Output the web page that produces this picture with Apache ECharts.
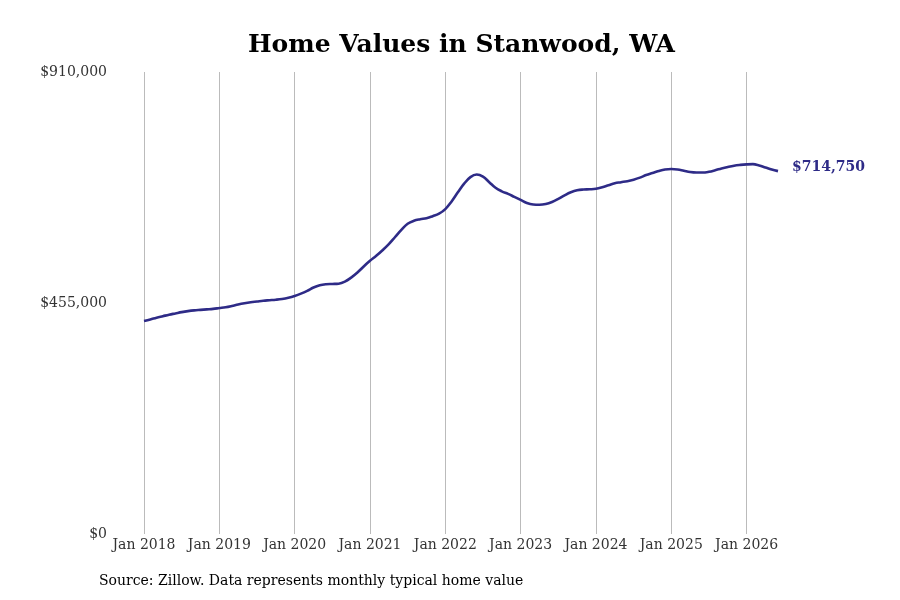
<!DOCTYPE html>
<html>
<head>
<meta charset="utf-8">
<title>Home Values in Stanwood, WA</title>
<script src="https://cdn.jsdelivr.net/npm/echarts@6/dist/echarts.min.js"></script>
<style>
  html, body { margin: 0; padding: 0; background: #fff; }
  #chart { width: 900px; height: 600px; }
</style>
</head>
<body>
<div id="chart"></div>
<script>
// monthly typical home value, Jan 2018 .. Jun 2026
var years = [2018, 2019, 2020, 2021, 2022, 2023, 2024, 2025, 2026];
var monthNames = ['Jan','Feb','Mar','Apr','May','Jun','Jul','Aug','Sep','Oct','Nov','Dec'];
var yTicks = [0, 455000, 910000];

var v2018 = [419500, 422500, 426000, 429000, 432000, 434500, 437000, 439000, 440500, 441500, 442500, 443500];
var v2019 = [445000, 446500, 449000, 452000, 454500, 456500, 458000, 459500, 460500, 461500, 463000, 465500];
var v2020 = [469000, 473500, 479000, 485500, 490000, 492000, 492500, 493000, 497000, 505000, 515000, 527000];
var v2021 = [538000, 548000, 559000, 571000, 585000, 599000, 611000, 617000, 620000, 622000, 626000, 631000];
var v2022 = [640000, 655000, 673000, 690000, 703000, 708000, 704000, 693000, 682000, 675000, 670000, 664000];
var v2023 = [658000, 652000, 649000, 648500, 650000, 654000, 660000, 667000, 673000, 677000, 678500, 679000];
var v2024 = [680000, 683000, 687000, 691000, 693000, 695000, 698000, 702000, 707000, 711000, 715000, 718000];
var v2025 = [719000, 718000, 715500, 713000, 712000, 712000, 713500, 716500, 720000, 723000, 725500, 727000];
var v2026 = [728000, 728500, 726000, 722000, 718000, 714750];

var values = [].concat(v2018, v2019, v2020, v2021, v2022, v2023, v2024, v2025, v2026);

var months = [];
years.forEach(function (y) {
    monthNames.forEach(function (m) { months.push(m + ' ' + y); });
});
months = months.slice(0, values.length);

var font = 'DejaVu Serif';
var lineColor = '#2e2b87';

function isJan(i) { return i % 12 === 0; }

var chart = echarts.init(document.getElementById('chart'));
chart.setOption({
    animation: false,
    title: {
        text: 'Home Values in Stanwood, WA',
        left: 243,
        top: 28,
        textStyle: { fontFamily: font, fontSize: 25, fontWeight: 'bold', color: '#000' }
    },
    graphic: [{
        type: 'text',
        left: 99,
        top: 574,
        style: {
            text: 'Source: Zillow. Data represents monthly typical home value',
            font: '14px "DejaVu Serif"',
            fill: '#000'
        }
    }],
    grid: { left: 144, right: 122, top: 72, bottom: 66 },
    xAxis: {
        type: 'category',
        data: months,
        boundaryGap: false,
        axisLine: { show: false },
        axisTick: { show: false },
        axisLabel: {
            interval: function (i) { return isJan(i); },
            color: '#333',
            fontFamily: font,
            fontSize: 14,
            margin: 4
        },
        splitLine: {
            show: true,
            interval: function (i) { return isJan(i); },
            lineStyle: { color: '#bbbbbb', width: 1 }
        }
    },
    yAxis: {
        type: 'value',
        min: yTicks[0],
        max: yTicks[2],
        interval: yTicks[1],
        axisLine: { show: false },
        axisTick: { show: false },
        splitLine: { show: false },
        axisLabel: {
            color: '#333',
            fontFamily: font,
            fontSize: 14,
            margin: 37,
            formatter: function (v) { return '$' + v.toLocaleString('en-US'); }
        }
    },
    series: [{
        type: 'line',
        data: values,
        smooth: 0.4,
        showSymbol: false,
        lineStyle: { color: lineColor, width: 2.6 },
        endLabel: {
            show: true,
            distance: 14,
            offset: [0, -4],
            color: lineColor,
            fontFamily: font,
            fontSize: 14,
            fontWeight: 'bold',
            formatter: function (p) { return '$' + p.value.toLocaleString('en-US'); }
        }
    }]
});
</script>
</body>
</html>
